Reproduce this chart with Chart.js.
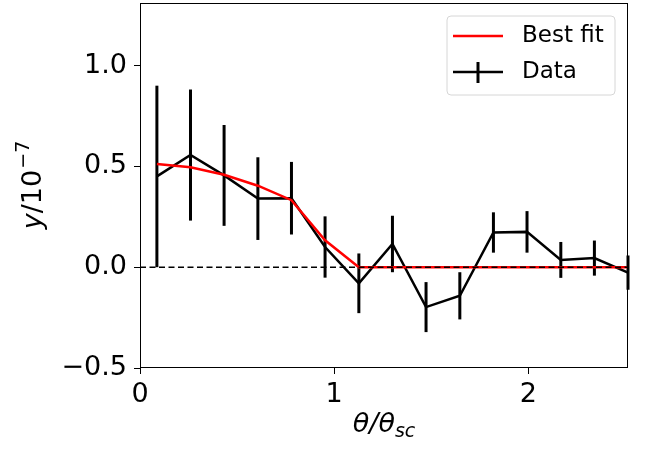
<!DOCTYPE html>
<html><head><meta charset="utf-8">
<script src="https://cdn.jsdelivr.net/npm/chart.js@4"></script>
<style>html,body{margin:0;padding:0;background:#fff}#wrap{width:647px;height:450px}</style>
</head><body><div id="wrap"><canvas id="c" width="647" height="450"></canvas></div>
<script>
// ---- data ----
const thetaValues = [0.087,0.260,0.433,0.607,0.780,0.953,1.127,1.300,1.473,1.647,1.820,1.993,2.167,2.340,2.513];
const dataValues  = [0.450,0.556,0.455,0.340,0.342,0.100,-0.080,0.115,-0.198,-0.142,0.172,0.175,0.036,0.045,-0.027];
const dataErrors  = [0.450,0.325,0.250,0.205,0.180,0.152,0.148,0.140,0.124,0.117,0.100,0.103,0.089,0.087,0.085];
const fitValues   = [0.512,0.495,0.458,0.404,0.332,0.133,0,0,0,0,0,0,0,0,0];
const xTicks = [0,1,2];
const yTicks = [-0.5,0,0.5,1.0];
const xRange = [0, 2.513];
const yRange = [-0.5, 1.31];
const seriesLabels = ['Best fit','Data'];

const FONT = "'DejaVu Sans', sans-serif";
const toPts = (ys) => thetaValues.map((x,i)=>({x:x,y:ys[i]}));

const errorBarPlugin = {
  id:'errbars',
  beforeDatasetDraw(chart, args){
    if (args.index !== 2) return;
    const {ctx, scales:{x,y}} = chart;
    ctx.save();
    ctx.strokeStyle = '#000'; ctx.lineWidth = 3; ctx.lineCap='butt';
    thetaValues.forEach((t,i)=>{
      const px = x.getPixelForValue(t);
      ctx.beginPath();
      ctx.moveTo(px, y.getPixelForValue(dataValues[i]-dataErrors[i]));
      ctx.lineTo(px, y.getPixelForValue(dataValues[i]+dataErrors[i]));
      ctx.stroke();
    });
    ctx.restore();
  }
};

const decorPlugin = {
  id:'decor',
  afterDraw(chart){
    const {ctx, chartArea:a} = chart;
    ctx.save();
    // frame
    ctx.strokeStyle='#000'; ctx.lineWidth=1;
    ctx.strokeRect(Math.round(a.left)+0.5, Math.round(a.top)+0.5, Math.round(a.right-a.left)-1, Math.round(a.bottom-a.top)-1);
    // x title: θ/θ_sc
    ctx.fillStyle='#000'; ctx.textBaseline='alphabetic';
    const big = "italic 27px " + FONT, small = "italic 19px " + FONT;
    ctx.font = big; const w1 = ctx.measureText('θ/θ').width;
    ctx.font = small; const w2 = ctx.measureText('sc').width;
    let sx = (a.left+a.right)/2 - (w1+w2)/2;
    const by = 432;
    ctx.font = big; ctx.textAlign='left'; ctx.fillText('θ/θ', sx, by);
    ctx.font = small; ctx.fillText('sc', sx+w1, by+5);
    // y title: y/10^{-7}
    ctx.translate(41, (a.top+a.bottom)/2);
    ctx.rotate(-Math.PI/2);
    const fi = "italic 27px " + FONT, fr = "27px " + FONT, fs = "19px " + FONT;
    ctx.font = fi; const wy = ctx.measureText('y').width;
    ctx.font = fr; const wr = ctx.measureText('/10').width;
    ctx.font = fs; const ws = ctx.measureText('−7').width;
    let tx = -(wy+wr+ws)/2;
    ctx.font = fi; ctx.fillText('y', tx, 0);
    ctx.font = fr; ctx.fillText('/10', tx+wy, 0);
    ctx.font = fs; ctx.fillText('−7', tx+wy+wr+1, -12);
    ctx.restore();

    // legend
    ctx.save();
    const lx=447, ly=16, lw=168, lh=79, r=4;
    ctx.beginPath();
    ctx.moveTo(lx+r,ly); ctx.lineTo(lx+lw-r,ly); ctx.quadraticCurveTo(lx+lw,ly,lx+lw,ly+r);
    ctx.lineTo(lx+lw,ly+lh-r); ctx.quadraticCurveTo(lx+lw,ly+lh,lx+lw-r,ly+lh);
    ctx.lineTo(lx+r,ly+lh); ctx.quadraticCurveTo(lx,ly+lh,lx,ly+lh-r);
    ctx.lineTo(lx,ly+r); ctx.quadraticCurveTo(lx,ly,lx+r,ly); ctx.closePath();
    ctx.fillStyle='rgba(255,255,255,0.8)'; ctx.fill();
    ctx.strokeStyle='#d6d6d6'; ctx.lineWidth=1; ctx.stroke();
    ctx.lineWidth=2.5;
    ctx.strokeStyle='#ff0000';
    ctx.beginPath(); ctx.moveTo(453,36); ctx.lineTo(503,36); ctx.stroke();
    ctx.strokeStyle='#000';
    ctx.beginPath(); ctx.moveTo(453,72); ctx.lineTo(503,72); ctx.stroke();
    ctx.lineWidth=3;
    ctx.beginPath(); ctx.moveTo(478,62); ctx.lineTo(478,83); ctx.stroke();
    ctx.fillStyle='#000'; ctx.font = "23px " + FONT; ctx.textBaseline='middle'; ctx.textAlign='left';
    ctx.fillText(seriesLabels[0], 522, 36);
    ctx.fillText(seriesLabels[1], 522, 72);
    ctx.restore();
  }
};

const fmtY = v => (v<0?'−':'') + Math.abs(v).toFixed(1);

new Chart(document.getElementById('c'), {
  type:'line',
  data:{
    datasets:[
      {label:'zero', data:[{x:xRange[0],y:0},{x:xRange[1],y:0}], borderColor:'#000', borderWidth:1.5, borderDash:[6,3.5], pointRadius:0, tension:0},
      {label:seriesLabels[0], data:toPts(fitValues), borderColor:'#ff0000', borderWidth:2.5, pointRadius:0, tension:0},
      {label:seriesLabels[1], data:toPts(dataValues), borderColor:'#000', borderWidth:2.5, pointRadius:0, tension:0}
    ]
  },
  options:{
    responsive:false, animation:false, devicePixelRatio:1,
    layout:{padding:{left:0,top:3,right:19,bottom:0}},
    plugins:{legend:{display:false}, tooltip:{enabled:false}},
    scales:{
      x:{type:'linear', min:xRange[0], max:xRange[1],
        afterBuildTicks:s=>{s.ticks = xTicks.map(v=>({value:v}));},
        afterFit:s=>{s.height=82; s.paddingLeft=0; s.paddingRight=0;},
        grid:{display:true, drawOnChartArea:false, drawTicks:true, tickLength:6, tickColor:'#000', tickWidth:1},
        border:{display:false},
        ticks:{color:'#000', font:{family:FONT, size:27}, padding:5, maxRotation:0, callback:v=>String(v)}
      },
      y:{type:'linear', min:yRange[0], max:yRange[1],
        afterBuildTicks:s=>{s.ticks = yTicks.map(v=>({value:v}));},
        afterFit:s=>{s.width=140; s.paddingTop=0; s.paddingBottom=0;},
        grid:{display:true, drawOnChartArea:false, drawTicks:true, tickLength:6, tickColor:'#000', tickWidth:1},
        border:{display:false},
        ticks:{color:'#000', font:{family:FONT, size:27}, padding:7, callback:v=>fmtY(v)}
      }
    }
  },
  plugins:[errorBarPlugin, decorPlugin]
});
</script>
</body></html>
